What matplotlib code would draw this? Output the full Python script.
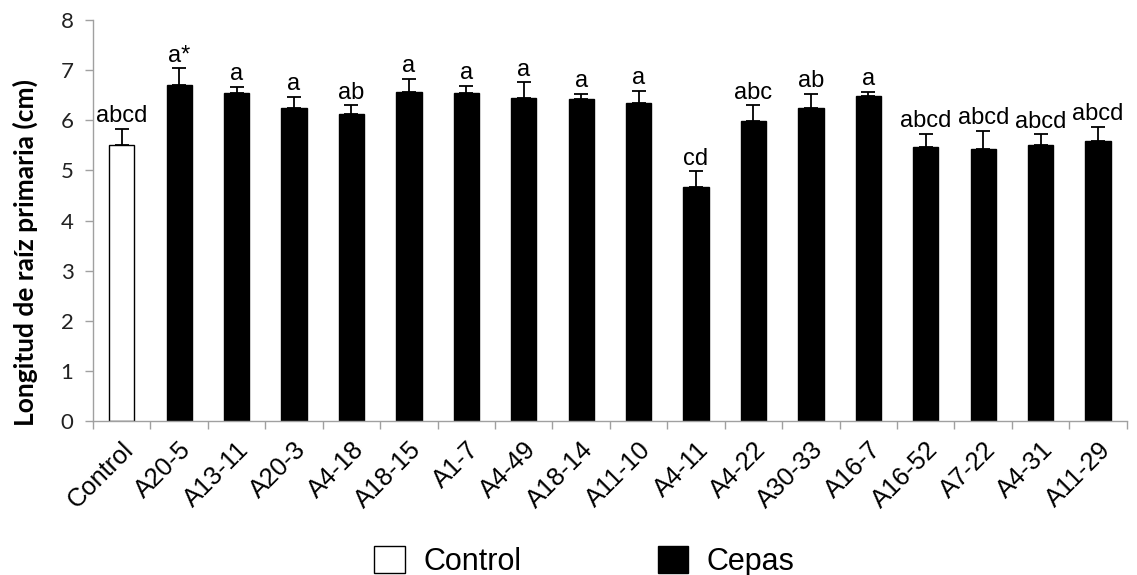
import matplotlib
matplotlib.use("Agg")
import matplotlib.pyplot as plt
import matplotlib.transforms as mtransforms
from matplotlib.patches import Patch
from matplotlib.ticker import FixedLocator, NullFormatter

categories = ["Control", "A20-5", "A13-11", "A20-3", "A4-18", "A18-15", "A1-7",
              "A4-49", "A18-14", "A11-10", "A4-11", "A4-22", "A30-33", "A16-7",
              "A16-52", "A7-22", "A4-31", "A11-29"]
values = [5.51, 6.71, 6.55, 6.25, 6.13, 6.57, 6.54, 6.45, 6.43, 6.35, 4.67,
          5.99, 6.25, 6.49, 5.47, 5.42, 5.51, 5.59]
errors = [0.32, 0.33, 0.12, 0.22, 0.17, 0.26, 0.15, 0.31, 0.10, 0.24, 0.31,
          0.31, 0.28, 0.08, 0.26, 0.37, 0.21, 0.28]
letters = ["abcd", "a*", "a", "a", "ab", "a", "a", "a", "a", "a", "cd", "abc",
           "ab", "a", "abcd", "abcd", "abcd", "abcd"]
legend_labels = ["Control", "Cepas"]

fig = plt.figure(figsize=(11.37, 5.75), dpi=100)
ax = fig.add_axes([0.0818, 0.268, 0.9092, 0.697])

x = list(range(len(categories)))
colors = ["white"] + ["black"] * (len(categories) - 1)
ax.bar(x, values, width=0.44, color=colors, edgecolor="black", linewidth=1.0, zorder=2)
ax.errorbar(x, values, yerr=[[0] * len(values), errors], fmt="none", ecolor="black",
            elinewidth=1.3, capsize=5, capthick=1.3, zorder=3)

for xi, v, e, t in zip(x, values, errors, letters):
    ax.text(xi, v + e + 0.03, t, ha="center", va="bottom", fontsize=17,
            family="Liberation Sans")

ax.set_xlim(-0.5, len(categories) - 0.5)
ax.set_ylim(0, 8)
ax.set_yticks(range(0, 9))
for lab in ax.get_yticklabels():
    lab.set_family("Lato")
    lab.set_fontsize(16)
    lab.set_color("#222222")

ax.set_xticks(x)
ax.set_xticklabels(categories, rotation=45, ha="right", rotation_mode="anchor",
                   fontsize=18.4, family="Liberation Sans")
offset = mtransforms.ScaledTranslation(-5 / 100, 0, fig.dpi_scale_trans)
for lab in ax.get_xticklabels():
    lab.set_transform(lab.get_transform() + offset)
ax.tick_params(axis="x", which="major", length=0, pad=12)
ax.xaxis.set_minor_locator(FixedLocator([i - 0.5 for i in range(len(categories) + 1)]))
ax.xaxis.set_minor_formatter(NullFormatter())
ax.tick_params(axis="x", which="minor", length=6, color="#a0a0a0", width=1)
ax.tick_params(axis="y", length=6, color="#a0a0a0", width=1, pad=8)

for s in ["top", "right"]:
    ax.spines[s].set_visible(False)
for s in ["left", "bottom"]:
    ax.spines[s].set_color("#a0a0a0")
    ax.spines[s].set_linewidth(1)

ax.set_ylabel("Longitud de raíz primaria (cm)", family="Lato", fontweight="bold",
              fontsize=19)
ax.yaxis.set_label_coords(-0.053, 0.42)

handles = [Patch(facecolor="white", edgecolor="black", linewidth=1),
           Patch(facecolor="black", edgecolor="black", linewidth=1)]
fig.legend(handles, legend_labels, loc="center", bbox_to_anchor=(0.514, 0.024),
           ncol=2, frameon=False, prop={"family": "Liberation Sans", "size": 22},
           handlelength=1.0, handleheight=1.0, columnspacing=4.46, handletextpad=0.6)

fig.savefig("out.png", dpi=100)
